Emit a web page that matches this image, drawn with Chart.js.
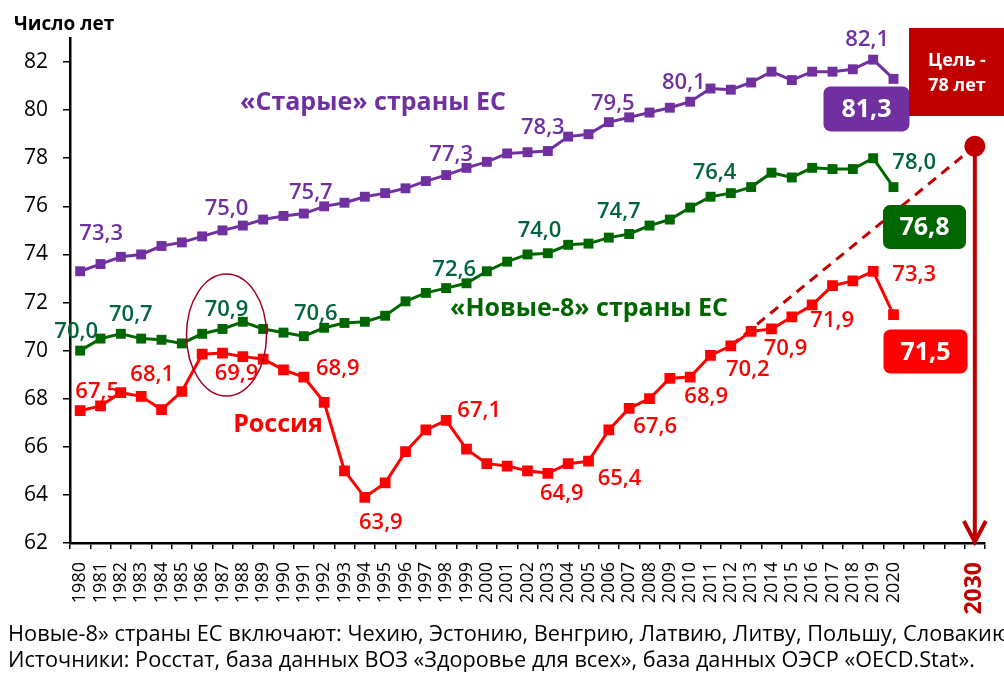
<!DOCTYPE html>
<html lang="ru">
<head>
<meta charset="UTF-8">
<title>Ожидаемая продолжительность жизни</title>
<script src="https://cdn.jsdelivr.net/npm/chart.js"></script>
<style>
  html, body { margin: 0; padding: 0; background: #fff; }
  #wrap { width: 1004px; height: 685px; position: relative; }
</style>
</head>
<body>
<div id="wrap"><canvas id="chart"></canvas></div>
<script>
// --- данные ---
const years = ['1980','1981','1982','1983','1984','1985','1986','1987','1988','1989',
  '1990','1991','1992','1993','1994','1995','1996','1997','1998','1999',
  '2000','2001','2002','2003','2004','2005','2006','2007','2008','2009',
  '2010','2011','2012','2013','2014','2015','2016','2017','2018','2019',
  '2020','','','','2030'];

const oldEU = [73.3, 73.6, 73.9, 74.0, 74.35, 74.5, 74.75, 75.0, 75.2, 75.45,
  75.6, 75.7, 76.0, 76.15, 76.4, 76.55, 76.75, 77.05, 77.3, 77.6,
  77.85, 78.2, 78.25, 78.3, 78.9, 79.0, 79.5, 79.7, 79.9, 80.1,
  80.35, 80.9, 80.85, 81.15, 81.6, 81.25, 81.6, 81.6, 81.7, 82.1,
  81.3];

const newEU8 = [70.0, 70.5, 70.7, 70.5, 70.45, 70.3, 70.7, 70.9, 71.2, 70.9,
  70.75, 70.6, 70.95, 71.15, 71.2, 71.45, 72.05, 72.4, 72.6, 72.8,
  73.3, 73.7, 74.0, 74.05, 74.4, 74.45, 74.7, 74.85, 75.2, 75.45,
  75.95, 76.4, 76.55, 76.8, 77.4, 77.2, 77.6, 77.55, 77.55, 78.0,
  76.8];

const russia = [67.5, 67.7, 68.25, 68.1, 67.55, 68.3, 69.85, 69.9, 69.75, 69.65,
  69.2, 68.9, 67.85, 65.0, 63.9, 64.5, 65.8, 66.7, 67.1, 65.9,
  65.3, 65.2, 65.0, 64.9, 65.3, 65.4, 66.7, 67.6, 68.0, 68.85,
  68.9, 69.8, 70.2, 70.8, 70.9, 71.4, 71.9, 72.7, 72.9, 73.3,
  71.5];

const targetFrom = '2012';
const targetYear = '2030';
const targetValue = 78.5;

const yTicks = [62, 64, 66, 68, 70, 72, 74, 76, 78, 80, 82];

// годы с подписями значений
const oldLabelYears = ['1980','1987','1991','1998','2003','2006','2009','2019'];
const newLabelYears = ['1980','1982','1987','1991','1998','2002','2006','2011','2019'];
const rusLabelYears = ['1980','1983','1987','1991','1994','1998','2003','2005','2007','2010','2012','2014','2016','2019'];

// сдвиги подписей относительно точки (px)
const oldLabelShift = [[21,-38],[4,-22],[7,-21],[5,-20],[-5,-23],[4,-18],[14,-25],[-6,-20]];
const newLabelShift = [[-4,-19],[10,-19],[4,-19],[12,-22],[8,-18],[12,-24],[10,-26],[4,-24],[41,4]];
const rusLabelShift = [[17,-19],[11,-22],[14,21],[34,-8],[16,25],[33,-10],[14,20],[31,17],[26,18],[16,20],[17,24],[14,20],[20,16],[41,3]];

const FONT = "'Open Sans', 'DejaVu Sans', sans-serif";
const PURPLE = '#7030A0';
const GREEN = '#006600';
const GREEN_TXT = '#00653A';
const RED = '#FF0000';
const DARKRED = '#C00000';

const fmt = v => v.toFixed(1).replace('.', ',');

const targetData = years.map(yr => {
  if (yr === targetFrom) return russia[years.indexOf(targetFrom)];
  if (yr === targetYear) return targetValue;
  return null;
});

function roundRect(ctx, x, y, w, h, r) {
  ctx.beginPath();
  ctx.moveTo(x + r, y);
  ctx.arcTo(x + w, y, x + w, y + h, r);
  ctx.arcTo(x + w, y + h, x, y + h, r);
  ctx.arcTo(x, y + h, x, y, r);
  ctx.arcTo(x, y, x + w, y, r);
  ctx.closePath();
}

const annotations = {
  id: 'annotations',
  afterDatasetsDraw(chart) {
    const { ctx, scales: { x, y } } = chart;
    ctx.save();

    // эллипс вокруг 1987 г.
    ctx.strokeStyle = '#A50021';
    ctx.lineWidth = 1.5;
    ctx.beginPath();
    ctx.ellipse(x.getPixelForValue(years.indexOf('1987')) + 4, y.getPixelForValue(70.65), 40, 61, 0, 0, Math.PI * 2);
    ctx.stroke();

    // цель 2030: вертикальная стрелка и кружок
    const tx = x.getPixelForValue(years.indexOf(targetYear));
    const ty = y.getPixelForValue(targetValue);
    const by = y.bottom - 1;
    ctx.strokeStyle = DARKRED;
    ctx.fillStyle = DARKRED;
    ctx.lineWidth = 4;
    ctx.beginPath();
    ctx.moveTo(tx, ty);
    ctx.lineTo(tx, by);
    ctx.moveTo(tx - 11, by - 21);
    ctx.lineTo(tx, by);
    ctx.lineTo(tx + 11, by - 21);
    ctx.stroke();
    ctx.beginPath();
    ctx.arc(tx, ty, 10.5, 0, Math.PI * 2);
    ctx.fill();

    // подписи значений
    const series = [
      [0, oldLabelYears, oldLabelShift, PURPLE],
      [1, newLabelYears, newLabelShift, GREEN_TXT],
      [2, rusLabelYears, rusLabelShift, RED]
    ];
    ctx.textAlign = 'center';
    ctx.textBaseline = 'middle';
    ctx.font = '600 22px ' + FONT;
    series.forEach(([di, ys, shifts, color]) => {
      const meta = chart.getDatasetMeta(di);
      const data = chart.data.datasets[di].data;
      ctx.fillStyle = color;
      ys.forEach((yr, k) => {
        const i = years.indexOf(yr);
        const p = meta.data[i];
        ctx.fillText(fmt(data[i]), p.x + shifts[k][0], p.y + shifts[k][1], 46);
      });
    });

    // значения 2020 г. в плашках
    const boxes = [
      [0, PURPLE, -27, 30, 86, 45],
      [1, GREEN, 31, 40, 83, 44],
      [2, RED, 32, 37, 84, 44]
    ];
    ctx.font = 'bold 25px ' + FONT;
    boxes.forEach(([di, color, dx, dy, w, h]) => {
      const i = years.indexOf('2020');
      const p = chart.getDatasetMeta(di).data[i];
      const cx = p.x + dx, cy = p.y + dy;
      ctx.fillStyle = color;
      roundRect(ctx, cx - w / 2, cy - h / 2, w, h, 7);
      ctx.fill();
      ctx.fillStyle = '#fff';
      ctx.fillText(fmt(chart.data.datasets[di].data[i]), cx, cy + 1, 56);
    });

    // плашка «Цель - 78 лет»
    ctx.fillStyle = DARKRED;
    ctx.fillRect(909, 28, 95, 88);
    ctx.fillStyle = '#fff';
    ctx.font = 'bold 18px ' + FONT;
    ctx.fillText('Цель -', 957, 61, 70);
    ctx.fillText('78 лет', 957, 86, 70);

    // названия рядов
    ctx.font = 'bold 25px ' + FONT;
    ctx.fillStyle = PURPLE;
    ctx.fillText('«Старые» страны ЕС', 373, 103, 274);
    ctx.fillStyle = GREEN;
    ctx.fillText('«Новые-8» страны ЕС', 589, 309, 292);
    ctx.fillStyle = RED;
    ctx.fillText('Россия', 278, 425, 90);

    // заголовок оси и сноски
    ctx.textAlign = 'left';
    ctx.fillStyle = '#000';
    ctx.font = 'bold 19px ' + FONT;
    ctx.fillText('Число лет', 14, 25, 108);
    ctx.font = '22px ' + FONT;
    ctx.fillText('Новые-8» страны ЕС включают: Чехию, Эстонию, Венгрию, Латвию, Литву, Польшу, Словакию', 8, 635, 1002);
    ctx.fillText('Источники: Росстат, база данных ВОЗ «Здоровье для всех», база данных ОЭСР «OECD.Stat».', 8, 661, 967);

    ctx.restore();
  }
};

new Chart(document.getElementById('chart'), {
  type: 'line',
  data: {
    labels: years,
    datasets: [
      { label: '«Старые» страны ЕС', data: oldEU, borderColor: PURPLE, backgroundColor: PURPLE,
        borderWidth: 3, pointStyle: 'rect', pointRadius: 7, pointBorderWidth: 0, tension: 0 },
      { label: '«Новые-8» страны ЕС', data: newEU8, borderColor: GREEN, backgroundColor: GREEN,
        borderWidth: 3, pointStyle: 'rect', pointRadius: 7, pointBorderWidth: 0, tension: 0 },
      { label: 'Россия', data: russia, borderColor: RED, backgroundColor: RED,
        borderWidth: 3, pointStyle: 'rect', pointRadius: 7.6, pointBorderWidth: 0, tension: 0 },
      { label: 'Цель', data: targetData, borderColor: DARKRED, borderWidth: 3, borderDash: [10, 7],
        pointRadius: 0, spanGaps: true, tension: 0 }
    ]
  },
  options: {
    responsive: true,
    maintainAspectRatio: false,
    animation: false,
    layout: { padding: { top: 38, right: 19, left: 0, bottom: 0 } },
    plugins: { legend: { display: false }, tooltip: { enabled: false } },
    scales: {
      x: {
        offset: true,
        afterFit: s => { s.height = 142; s.paddingLeft = 0; s.paddingRight = 0; },
        grid: { display: true, offset: true, drawOnChartArea: false, tickLength: 6, color: '#000', lineWidth: 1.5 },
        border: { display: true, color: '#000', width: 2.5 },
        ticks: {
          autoSkip: false, minRotation: 90, maxRotation: 90, padding: 13,
          color: c => (c.tick && c.tick.label === targetYear) ? DARKRED : '#000',
          font: c => (c.tick && c.tick.label === targetYear)
            ? { family: FONT, size: 23, weight: 'bold' }
            : { family: FONT, size: 18 }
        }
      },
      y: {
        min: 62, max: 83,
        afterFit: s => { s.width = 70; },
        afterBuildTicks: s => { s.ticks = yTicks.map(v => ({ value: v })); },
        grid: { display: true, drawOnChartArea: false, tickLength: 7, color: '#000', lineWidth: 1.5 },
        border: { display: true, color: '#000', width: 2.5 },
        ticks: { stepSize: 2, padding: 15, color: '#000', font: { family: FONT, size: 21 } }
      }
    }
  },
  plugins: [annotations]
});
</script>
</body>
</html>
